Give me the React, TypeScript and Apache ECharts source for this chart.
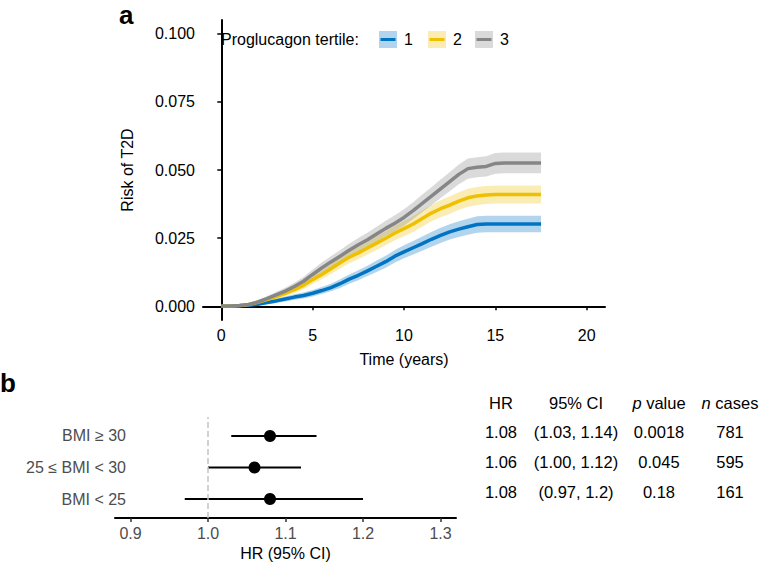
import React, { useEffect, useRef } from "react";
import * as echarts from "echarts";

// ---------- Panel a data ----------
const times = [0, 0.5, 1, 1.5, 2, 2.5, 3, 3.5, 4, 4.5, 5, 5.5, 6, 6.5, 7, 7.5, 8, 8.5, 9, 9.5, 10, 10.5, 11, 11.5, 12, 12.5, 13, 13.5, 14, 14.5, 15, 15.5, 16, 16.5, 17, 17.5];

const risk1 = [0, 0.0001, 0.0002, 0.0004, 0.0008, 0.0014, 0.002, 0.0027, 0.0034, 0.004, 0.0048, 0.0058, 0.0069, 0.0083, 0.01, 0.0114, 0.013, 0.0147, 0.0164, 0.0184, 0.02, 0.0215, 0.023, 0.0246, 0.026, 0.0273, 0.0283, 0.0292, 0.03, 0.0302, 0.0302, 0.0302, 0.0302, 0.0302, 0.0302, 0.0302];
const risk2 = [0, 0.0001, 0.0003, 0.0007, 0.0015, 0.0025, 0.0036, 0.0048, 0.0061, 0.0077, 0.0098, 0.0117, 0.0138, 0.016, 0.018, 0.0196, 0.0214, 0.0232, 0.025, 0.0269, 0.0285, 0.0302, 0.0322, 0.0342, 0.0358, 0.0371, 0.0386, 0.0398, 0.0405, 0.0408, 0.041, 0.041, 0.041, 0.041, 0.041, 0.041];
const risk3 = [0, 0.0001, 0.0003, 0.0007, 0.0016, 0.0028, 0.0042, 0.0056, 0.0073, 0.0092, 0.0117, 0.0141, 0.0163, 0.0184, 0.0206, 0.0226, 0.0244, 0.0265, 0.0286, 0.0305, 0.0326, 0.0351, 0.0378, 0.0404, 0.0431, 0.0457, 0.0484, 0.0505, 0.051, 0.0513, 0.0524, 0.0526, 0.0526, 0.0526, 0.0526, 0.0526];

// half-widths of the 95% confidence bands
const half1 = [0, 0.0001, 0.0002, 0.0003, 0.0005, 0.0006, 0.0008, 0.0009, 0.001, 0.0011, 0.0012, 0.0013, 0.0014, 0.0016, 0.0017, 0.0018, 0.0019, 0.0021, 0.0022, 0.0023, 0.0024, 0.0025, 0.0026, 0.0027, 0.0028, 0.0028, 0.0029, 0.0029, 0.003, 0.003, 0.003, 0.003, 0.003, 0.003, 0.003, 0.003];
const half2 = [0, 0.0001, 0.0002, 0.0004, 0.0006, 0.0008, 0.001, 0.0011, 0.0013, 0.0014, 0.0016, 0.0018, 0.0019, 0.0021, 0.0022, 0.0023, 0.0024, 0.0025, 0.0026, 0.0027, 0.0028, 0.0029, 0.003, 0.003, 0.0031, 0.0032, 0.0032, 0.0033, 0.0033, 0.0033, 0.0033, 0.0033, 0.0033, 0.0033, 0.0033, 0.0033];
const half3 = [0, 0.0001, 0.0002, 0.0004, 0.0006, 0.0009, 0.0011, 0.0012, 0.0014, 0.0016, 0.0018, 0.002, 0.0021, 0.0022, 0.0024, 0.0025, 0.0026, 0.0027, 0.0028, 0.0029, 0.003, 0.0031, 0.0032, 0.0033, 0.0034, 0.0035, 0.0036, 0.0037, 0.0037, 0.0037, 0.0038, 0.0038, 0.0038, 0.0038, 0.0038, 0.0038];

const tertiles = ["1", "2", "3"];
const lineColors = ["#0073C2", "#EFC000", "#868686"];
const xTicksA = [0, 5, 10, 15, 20];
const yTicksA = [0, 0.025, 0.05, 0.075, 0.1];

// ---------- Panel b data ----------
const subgroups = ["BMI < 25", "25 \u2264 BMI < 30", "BMI \u2265 30"]; // bottom -> top
const hrValues = [1.08, 1.06, 1.08];
const ciLow = [0.97, 1.0, 1.03];
const ciHigh = [1.2, 1.12, 1.14];
const xTicksB = [0.9, 1.0, 1.1, 1.2, 1.3];

// table rows, top -> bottom
const tableHR = ["1.08", "1.06", "1.08"];
const tableCI = ["(1.03, 1.14)", "(1.00, 1.12)", "(0.97, 1.2)"];
const tableP = ["0.0018", "0.045", "0.18"];
const tableN = ["781", "595", "161"];

const FONT = "'Liberation Sans', Arial, Helvetica, sans-serif";

export default function App() {
  const ref = useRef<HTMLDivElement>(null);

  useEffect(() => {
    if (!ref.current) return;
    const chart = echarts.init(ref.current, null, { renderer: "svg" });

    const risks = [risk1, risk2, risk3];
    const halves = [half1, half2, half3];

    const series: any[] = [];
    // confidence bands as polygons through the axis scales
    risks.forEach((r, i) => {
      const bandData = times.map((t, k) => [t, r[k] - halves[i][k], r[k] + halves[i][k]]);
      series.push({
        type: "custom",
        xAxisIndex: 0,
        yAxisIndex: 0,
        silent: true,
        z: 1,
        data: bandData,
        encode: { x: 0, y: [1, 2] },
        renderItem: (params: any, api: any) => {
          if (params.dataIndex !== 0) return null;
          const upper = bandData.map((d) => api.coord([d[0], d[2]]));
          const lower = bandData.map((d) => api.coord([d[0], d[1]])).reverse();
          return {
            type: "polygon",
            shape: { points: upper.concat(lower) },
            style: { fill: lineColors[i], opacity: 0.3 },
          };
        },
      });
    });
    // lines
    risks.forEach((r, i) => {
      series.push({
        type: "line",
        name: tertiles[i],
        xAxisIndex: 0,
        yAxisIndex: 0,
        data: times.map((t, k) => [t, r[k]]),
        symbol: "none",
        lineStyle: { color: lineColors[i], width: 3.5 },
        z: 2,
      });
    });

    // forest: reference line
    series.push({
      type: "scatter",
      xAxisIndex: 1,
      yAxisIndex: 1,
      data: [],
      z: 1,
      markLine: {
        silent: true,
        symbol: "none",
        label: { show: false },
        lineStyle: { type: "dashed", color: "#c4c4c4", width: 1.5 },
        data: [{ xAxis: 1 }],
      },
    });
    // forest: CI lines
    series.push({
      type: "custom",
      xAxisIndex: 1,
      yAxisIndex: 1,
      z: 3,
      data: subgroups.map((_, i) => [ciLow[i], i + 1, ciHigh[i]]),
      encode: { x: [0, 2], y: 1 },
      renderItem: (params: any, api: any) => {
        const p1 = api.coord([api.value(0), api.value(1)]);
        const p2 = api.coord([api.value(2), api.value(1)]);
        return {
          type: "line",
          shape: { x1: p1[0], y1: p1[1], x2: p2[0], y2: p2[1] },
          style: { stroke: "#000", lineWidth: 2 },
        };
      },
    });
    // forest: points
    series.push({
      type: "scatter",
      xAxisIndex: 1,
      yAxisIndex: 1,
      z: 4,
      symbol: "circle",
      symbolSize: 12,
      itemStyle: { color: "#000", opacity: 1 },
      data: subgroups.map((_, i) => [hrValues[i], i + 1]),
    });

    // graphics: panel labels, legend, table
    const graphic: any[] = [];
    graphic.push({ type: "text", x: 119, y: 28, style: { text: "a", font: `bold 26px ${FONT}`, fill: "#000", verticalAlign: "bottom" } });
    graphic.push({ type: "text", x: 0, y: 383, style: { text: "b", font: `bold 26px ${FONT}`, fill: "#000", verticalAlign: "middle" } });

    graphic.push({ type: "text", x: 221, y: 39, style: { text: "Proglucagon tertile:", font: `16px ${FONT}`, fill: "#000", verticalAlign: "middle" } });
    const keyX = [379, 428, 475];
    tertiles.forEach((lab, i) => {
      graphic.push({ type: "rect", shape: { x: keyX[i], y: 31, width: 18, height: 17 }, style: { fill: lineColors[i], opacity: 0.3 } });
      graphic.push({ type: "line", shape: { x1: keyX[i] + 1.5, y1: 39.5, x2: keyX[i] + 16.5, y2: 39.5 }, style: { stroke: lineColors[i], lineWidth: 3 } });
      graphic.push({ type: "text", x: keyX[i] + 25, y: 39, style: { text: lab, font: `16px ${FONT}`, fill: "#000", verticalAlign: "middle" } });
    });

    const TF = `16.5px ${FONT}`;
    const colX = [501, 576, 659, 730];
    const rowY = [432, 462, 492];
    const headY = 402.5;
    graphic.push({ type: "text", x: colX[0], y: headY, style: { text: "HR", font: TF, fill: "#000", align: "center", verticalAlign: "middle" } });
    graphic.push({ type: "text", x: colX[1], y: headY, style: { text: "95% CI", font: TF, fill: "#000", align: "center", verticalAlign: "middle" } });
    graphic.push({
      type: "text", x: colX[2], y: headY,
      style: {
        text: "{i|p} value", font: TF, fill: "#000", align: "center", verticalAlign: "middle",
        rich: { i: { fontStyle: "italic", fontSize: 16.5, fontFamily: FONT, fill: "#000" } },
      },
    });
    graphic.push({
      type: "text", x: colX[3], y: headY,
      style: {
        text: "{i|n} cases", font: TF, fill: "#000", align: "center", verticalAlign: "middle",
        rich: { i: { fontStyle: "italic", fontSize: 16.5, fontFamily: FONT, fill: "#000" } },
      },
    });
    const cols = [tableHR, tableCI, tableP, tableN];
    cols.forEach((col, c) => {
      col.forEach((txt, r) => {
        graphic.push({ type: "text", x: colX[c], y: rowY[r], style: { text: txt, font: TF, fill: "#000", align: "center", verticalAlign: "middle" } });
      });
    });

    chart.setOption({
      animation: false,
      textStyle: { fontFamily: FONT },
      grid: [
        { left: 203, top: 20, width: 402, height: 300 },
        { left: 115, top: 417, width: 341, height: 101 },
      ],
      xAxis: [
        {
          type: "value", gridIndex: 0, min: -1, max: 21,
          axisLine: { lineStyle: { color: "#000", width: 2 } },
          axisTick: { show: true, length: 4, lineStyle: { color: "#000", width: 1.5 }, customValues: xTicksA },
          axisLabel: { customValues: xTicksA, color: "#000", fontSize: 16, margin: 7 },
          splitLine: { show: false },
          name: "Time (years)", nameLocation: "middle", nameGap: 31,
          nameTextStyle: { color: "#000", fontSize: 16 },
        },
        {
          type: "value", gridIndex: 1, min: 0.88, max: 1.32,
          axisLine: { lineStyle: { color: "#000", width: 2 } },
          axisTick: { show: true, length: 4, lineStyle: { color: "#333", width: 1.5 }, customValues: xTicksB },
          axisLabel: { customValues: xTicksB, color: "#4d4d4d", fontSize: 16, margin: 7, formatter: (v: number) => v.toFixed(1) },
          splitLine: { show: false },
          name: "HR (95% CI)", nameLocation: "middle", nameGap: 27,
          nameTextStyle: { color: "#000", fontSize: 16 },
        },
      ],
      yAxis: [
        {
          type: "value", gridIndex: 0, min: -0.005, max: 0.105,
          axisLine: { show: true, lineStyle: { color: "#000", width: 2 } },
          axisTick: { show: true, length: 4, lineStyle: { color: "#000", width: 1.5 }, customValues: yTicksA },
          axisLabel: { customValues: yTicksA, color: "#000", fontSize: 16, margin: 8, formatter: (v: number) => v.toFixed(3) },
          splitLine: { show: false },
          name: "Risk of T2D", nameLocation: "middle", nameGap: 68, nameRotate: 90,
          nameTextStyle: { color: "#000", fontSize: 16 },
        },
        {
          type: "value", gridIndex: 1, min: 0.4, max: 3.6,
          axisLine: { show: false },
          axisTick: { show: false },
          axisLabel: { customValues: [1, 2, 3], color: "#4d4d4d", fontSize: 16, margin: -11, formatter: (v: number) => subgroups[Math.round(v) - 1] },
          splitLine: { show: false },
        },
      ],
      series,
      graphic,
    });

    return () => chart.dispose();
  }, []);

  return (
    <div
      ref={ref}
      style={{ position: "fixed", left: 0, top: 0, width: 762, height: 564, background: "#fff" }}
    />
  );
}
